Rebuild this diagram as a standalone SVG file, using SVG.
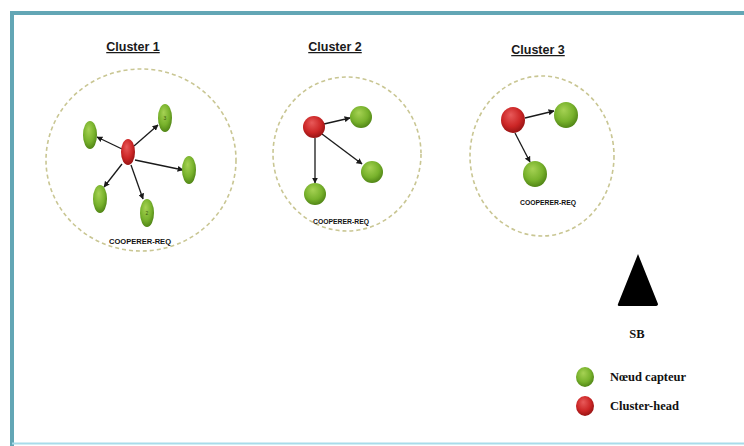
<svg xmlns="http://www.w3.org/2000/svg" width="744" height="446" viewBox="0 0 744 446">
  <style>
    .title { font-family: "Liberation Sans", Arial, sans-serif; font-weight: bold; font-size: 12.5px; fill: #1a1a1a; text-anchor: middle; text-decoration: underline; }
    .req { font-family: "Liberation Sans", Arial, sans-serif; font-weight: bold; font-size: 7px; fill: #111; text-anchor: middle; }
    .legend { font-family: "Liberation Serif", "Times New Roman", serif; font-weight: bold; font-size: 12.5px; fill: #111; }
    .zone { fill: none; stroke: #c9c693; stroke-width: 1.6; stroke-dasharray: 4 3; }
    .sensor { fill: url(#greenGrad); }
    .head { fill: url(#redGrad); }
    .link { stroke: #1a1a1a; stroke-width: 1.3; fill: none; marker-end: url(#arrow); }
    .tag { font-family: "Liberation Sans", Arial, sans-serif; font-size: 5px; fill: #3d5a10; text-anchor: middle; }
  </style>
  <defs>
    <radialGradient id="greenGrad" cx="0.45" cy="0.4" r="0.65" fx="0.4" fy="0.3">
      <stop offset="0" stop-color="#a6d254"/>
      <stop offset="0.6" stop-color="#78b22c"/>
      <stop offset="1" stop-color="#4a7e12"/>
    </radialGradient>
    <radialGradient id="redGrad" cx="0.45" cy="0.4" r="0.65" fx="0.4" fy="0.3">
      <stop offset="0" stop-color="#e85a5a"/>
      <stop offset="0.6" stop-color="#cc2626"/>
      <stop offset="1" stop-color="#8e1010"/>
    </radialGradient>
    <marker id="arrow" viewBox="0 0 10 10" refX="9" refY="5" markerWidth="6" markerHeight="6" orient="auto" markerUnits="userSpaceOnUse">
      <path d="M0,0 L10,5 L0,10 z" fill="#1a1a1a"/>
    </marker>
  </defs>

  <!-- page background and frame -->
  <rect x="0" y="0" width="744" height="446" fill="#ffffff"/>
  <path d="M12,446 L12,13 L744,13" fill="none" stroke="#63a6b5" stroke-width="4"/>
  <line x1="12" y1="443.5" x2="744" y2="443.5" stroke="#a8dcea" stroke-width="2"/>

  <!-- cluster zones -->
  <g id="cluster1">
    <text class="title" x="133" y="51">Cluster 1</text>
    <ellipse class="zone" cx="141" cy="160" rx="95" ry="91"/>
    <text class="req" x="140" y="244" textLength="62" lengthAdjust="spacingAndGlyphs">COOPERER-REQ</text>
  </g>
  <g id="cluster2">
    <text class="title" x="335" y="51">Cluster 2</text>
    <ellipse class="zone" cx="347" cy="154" rx="74" ry="77"/>
    <text class="req" x="341" y="224" textLength="56" lengthAdjust="spacingAndGlyphs">COOPERER-REQ</text>
  </g>
  <g id="cluster3">
    <text class="title" x="538" y="54">Cluster 3</text>
    <ellipse class="zone" cx="542" cy="156" rx="72" ry="80"/>
    <text class="req" x="548" y="205" textLength="56" lengthAdjust="spacingAndGlyphs">COOPERER-REQ</text>
  </g>

  <!-- connectors -->
  <g id="connectors">
    <line class="link" x1="122" y1="149" x2="97" y2="137"/>
    <line class="link" x1="134" y1="146" x2="158" y2="125"/>
    <line class="link" x1="135" y1="160" x2="183" y2="170"/>
    <line class="link" x1="122" y1="164" x2="104" y2="187"/>
    <line class="link" x1="131" y1="165" x2="143" y2="199"/>

    <line class="link" x1="324" y1="124" x2="350" y2="118"/>
    <line class="link" x1="322" y1="134" x2="362" y2="164"/>
    <line class="link" x1="315" y1="138" x2="315" y2="183"/>

    <line class="link" x1="525" y1="118" x2="554" y2="111"/>
    <line class="link" x1="515" y1="133" x2="530" y2="162"/>
  </g>

  <!-- cluster 1 nodes -->
  <g id="c1-head"><ellipse class="head" cx="128" cy="152" rx="7" ry="13"/></g>
  <g id="c1-n1"><ellipse class="sensor" cx="90" cy="135" rx="7" ry="14"/></g>
  <g id="c1-n2"><ellipse class="sensor" cx="165" cy="118" rx="7" ry="14"/><text class="tag" x="165" y="120">3</text></g>
  <g id="c1-n3"><ellipse class="sensor" cx="189" cy="170" rx="7" ry="14"/></g>
  <g id="c1-n4"><ellipse class="sensor" cx="100" cy="199" rx="7" ry="14"/></g>
  <g id="c1-n5"><ellipse class="sensor" cx="147" cy="213" rx="7" ry="14"/><text class="tag" x="147" y="215">2</text></g>

  <!-- cluster 2 nodes -->
  <g id="c2-head"><circle class="head" cx="314" cy="127" r="11"/></g>
  <g id="c2-n1"><circle class="sensor" cx="361" cy="117" r="11"/></g>
  <g id="c2-n2"><circle class="sensor" cx="372" cy="172" r="11"/></g>
  <g id="c2-n3"><circle class="sensor" cx="315" cy="194" r="11"/></g>

  <!-- cluster 3 nodes -->
  <g id="c3-head"><ellipse class="head" cx="513" cy="120" rx="12" ry="13"/></g>
  <g id="c3-n1"><ellipse class="sensor" cx="566" cy="115" rx="12" ry="13"/></g>
  <g id="c3-n2"><ellipse class="sensor" cx="535" cy="174" rx="12" ry="13"/></g>

  <!-- base station -->
  <g id="sink">
    <path d="M638,254 L658,304 Q658,306 655,306 L620,306 Q617,306 618,304 Z" fill="#000"/>
    <text class="legend" x="637" y="338" text-anchor="middle" font-size="15">SB</text>
  </g>

  <!-- legend -->
  <g id="legend-sensor">
    <ellipse class="sensor" cx="585" cy="377" rx="9" ry="10"/>
    <text class="legend" x="610" y="381">Nœud capteur</text>
  </g>
  <g id="legend-head">
    <ellipse class="head" cx="585" cy="406" rx="9" ry="10"/>
    <text class="legend" x="610" y="410">Cluster-head</text>
  </g>
</svg>
